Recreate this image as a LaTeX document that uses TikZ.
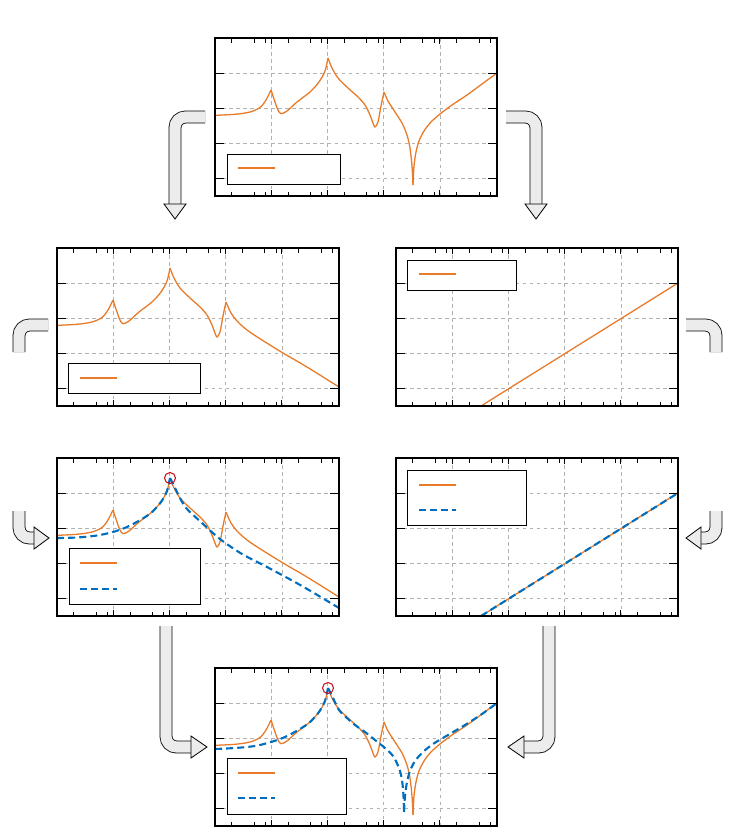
\documentclass[tikz,border=0pt]{standalone}
\usepackage{xcolor}
\usepackage{tikz}
\usetikzlibrary{positioning}

\definecolor{frforange}{RGB}{232,122,40}
\definecolor{frfblue}{RGB}{0,110,190}
\definecolor{peakred}{RGB}{200,20,30}

\tikzset{
  frame/.style={line width=1pt},
  gridline/.style={gray!60, dashed, line width=0.5pt},
  tickline/.style={line width=0.8pt},
  measured/.style={frforange, line width=1.1pt},
  fitted/.style={frfblue, line width=1.8pt, dash pattern=on 6 off 3.5},
  legendbox/.style={draw, fill=white, line width=0.7pt},
  pipe/.style={line width=0.7pt, double=gray!15, double distance=9.5, rounded corners=9},
  pipehead/.style={draw, fill=gray!15, line width=0.7pt, line join=miter},
}

% axes of one panel: grid, ticks and frame (local px, 282 x 158)
\newcommand{\panelgrid}{
  \foreach \gx in {56.2,112.4,168.6,224.8} \draw[gridline] (\gx,0) -- (\gx,158);
  \foreach \gy in {35.1,70.2,105.3,140.4} \draw[gridline] (0,\gy) -- (282,\gy);
}
\newcommand{\panelframe}{
  \foreach \d in {0,...,4} {
    \draw[tickline] (56.2*\d,0) -- ++(0,6) (56.2*\d,158) -- ++(0,-6);
    \foreach \m in {0.301,0.699,0.903}
      \draw[tickline] ({56.2*(\d+\m)},0) -- ++(0,4.5) ({56.2*(\d+\m)},158) -- ++(0,-4.5);
  }
  \foreach \gy in {35.1,70.2,105.3,140.4}
    \draw[tickline] (0,\gy) -- ++(9,0) (282,\gy) -- ++(-9,0);
  \draw[frame] (0,0) rectangle (282,158);
}

\begin{document}
\begin{tikzpicture}[x=0.03cm, y=-0.03cm]
  \useasboundingbox (0,0) rectangle (735,828);

  % ---- arrows between panels
  \draw[pipe] (205,117) -| (175,205);
  \draw[pipehead] (164,204) -- (186,204) -- (175,219) -- cycle;
  \draw[pipe] (506,117) -| (536,205);
  \draw[pipehead] (525,204) -- (547,204) -- (536,219) -- cycle;
  \draw[pipe] (48,325) -| (19,352);
  \draw[pipe] (686,325) -| (716,352);
  \draw[pipe] (19,511) |- (35,538);
  \draw[pipehead] (34,527) -- (34,549) -- (49,538) -- cycle;
  \draw[pipe] (716,511) |- (700,538);
  \draw[pipehead] (701,527) -- (701,549) -- (686,538) -- cycle;
  \draw[pipe] (166,626) |- (192,747);
  \draw[pipehead] (191,736) -- (191,758) -- (207,747) -- cycle;
  \draw[pipe] (549,626) |- (523,747);
  \draw[pipehead] (524,736) -- (524,758) -- (508,747) -- cycle;

  % ---- top panel: measured FRF
  \begin{scope}[shift={(215,38)}]
    \panelgrid
    \draw[measured] plot[smooth] coordinates {(0,77.3)(20,76.3)(35,74)(45,69.5)(51,62)(56,52)};
    \draw[measured] plot[smooth] coordinates {(56,52)(60,64)(63,72)(66,75.7)(72,73)(82,64)(95,54)(104,44)(110,33)(113,20)};
    \draw[measured] plot[smooth] coordinates {(113,20)(117,30)(123,40)(133,50)(143,59)(150,67)(155,77)(158,85)(160,89)(163,84)(166,68)(169,54)};
    \draw[measured] plot[smooth] coordinates {(169,54)(173,63)(180,74)(187,85)(192,97)(195,110)(197,128)(198,147)};
    \draw[measured] plot[smooth] coordinates {(198,147)(199,128)(201,114)(204,103)(209,93)(216,84)(225,76)(237,67)(252,57)(267,46)(282,35)};
    \node[legendbox, minimum width=3.39cm, minimum height=0.9cm, anchor=north west] (legtop) at (12,116) {};
    \draw[measured] (23,130) -- (60,130);
    \panelframe
  \end{scope}

  % ---- middle left: modes in band
  \begin{scope}[shift={(57,248)}]
    \panelgrid
    \draw[measured] plot[smooth] coordinates {(0,77.3)(20,76.3)(35,74)(45,69.5)(51,62)(56,52)};
    \draw[measured] plot[smooth] coordinates {(56,52)(60,64)(63,72)(66,75.7)(72,73)(82,64)(95,54)(104,44)(110,33)(113,20)};
    \draw[measured] plot[smooth] coordinates {(113,20)(117,30)(123,40)(133,50)(143,59)(150,67)(155,77)(158,85)(160,89)(163,84)(166,68)(169,54)};
    \draw[measured] plot[smooth] coordinates {(169,54)(174,65)(180,73)(190,82)(205,92)(226,105)(250,119)(282,139)};
    \node[legendbox, minimum width=3.96cm, minimum height=0.9cm, anchor=north west] (legmodes) at (11,115) {};
    \draw[measured] (23,130) -- (60,130);
    \panelframe
  \end{scope}

  % ---- middle right: residual term
  \begin{scope}[shift={(396,248)}]
    \panelgrid
    \draw[measured] (85,158) -- (282,35);
    \node[legendbox, minimum width=3.27cm, minimum height=0.9cm, anchor=north west] (legres) at (11,12) {};
    \draw[measured] (23,26) -- (60,26);
    \panelframe
  \end{scope}

  % ---- lower left: single mode fit
  \begin{scope}[shift={(57,458)}]
    \panelgrid
    \draw[measured] plot[smooth] coordinates {(0,77.3)(20,76.3)(35,74)(45,69.5)(51,62)(56,52)};
    \draw[measured] plot[smooth] coordinates {(56,52)(60,64)(63,72)(66,75.7)(72,73)(82,64)(95,54)(104,44)(110,33)(113,20)};
    \draw[measured] plot[smooth] coordinates {(113,20)(117,30)(123,40)(133,50)(143,59)(150,67)(155,77)(158,85)(160,89)(163,84)(166,68)(169,54)};
    \draw[measured] plot[smooth] coordinates {(169,54)(174,65)(180,73)(190,82)(205,92)(226,105)(250,119)(282,139)};
    \draw[fitted] plot[smooth] coordinates {(0,80)(20,79.5)(40,77.5)(56,74)(70,69)(85,61)(95,54)(104,44)(110,33)(113,20)};
    \draw[fitted] plot[smooth] coordinates {(113,20)(118,30)(124,42)(130,51)(145,65)(163,81)(185,96)(210,109)(245,128)(282,150)};
    \draw[peakred, line width=0.9pt] (113,20) circle (5.5);
    \node[legendbox, minimum width=3.93cm, minimum height=1.68cm, anchor=north west] (legfitl) at (12,90) {};
    \draw[measured] (23,105) -- (60,105);
    \draw[fitted] (23,131) -- (60,131);
    \panelframe
  \end{scope}

  % ---- lower right: residual fit
  \begin{scope}[shift={(396,458)}]
    \panelgrid
    \draw[measured] (85,158) -- (282,35);
    \draw[fitted] (85,158) -- (282,35);
    \node[legendbox, minimum width=3.57cm, minimum height=1.65cm, anchor=north west] (legfitr) at (11,12) {};
    \draw[measured] (23,27) -- (60,27);
    \draw[fitted] (23,52) -- (60,52);
    \panelframe
  \end{scope}

  % ---- bottom panel: synthesis
  \begin{scope}[shift={(215,668)}]
    \panelgrid
    \draw[measured] plot[smooth] coordinates {(0,77.3)(20,76.3)(35,74)(45,69.5)(51,62)(56,52)};
    \draw[measured] plot[smooth] coordinates {(56,52)(60,64)(63,72)(66,75.7)(72,73)(82,64)(95,54)(104,44)(110,33)(113,20)};
    \draw[measured] plot[smooth] coordinates {(113,20)(117,30)(123,40)(133,50)(143,59)(150,67)(155,77)(158,85)(160,89)(163,84)(166,68)(169,54)};
    \draw[measured] plot[smooth] coordinates {(169,54)(173,63)(180,74)(187,85)(192,97)(195,110)(197,128)(198,147)};
    \draw[measured] plot[smooth] coordinates {(198,147)(199,128)(201,114)(204,103)(209,93)(216,84)(225,76)(237,67)(252,57)(267,46)(282,35)};
    \draw[fitted] plot[smooth] coordinates {(0,81)(20,80)(40,78)(56,74)(70,69)(85,61)(95,54)(104,44)(110,33)(113,20)};
    \draw[fitted] plot[smooth] coordinates {(113,20)(118,30)(124,42)(132,50)(140,57)(150,64)(160,72)(170,80)(178,88)(184,100)(187,112)(188.5,128)(189,144)};
    \draw[fitted] plot[smooth] coordinates {(189,144)(190,128)(192,114)(195,103)(200,93)(208,84)(218,76)(233,67)(250,57)(267,46)(282,35)};
    \draw[peakred, line width=0.9pt] (113,20) circle (5.5);
    \node[legendbox, minimum width=3.57cm, minimum height=1.68cm, anchor=north west] (legsyn) at (12,90) {};
    \draw[measured] (23,105) -- (60,105);
    \draw[fitted] (23,130) -- (60,130);
    \panelframe
  \end{scope}
\end{tikzpicture}
\end{document}
